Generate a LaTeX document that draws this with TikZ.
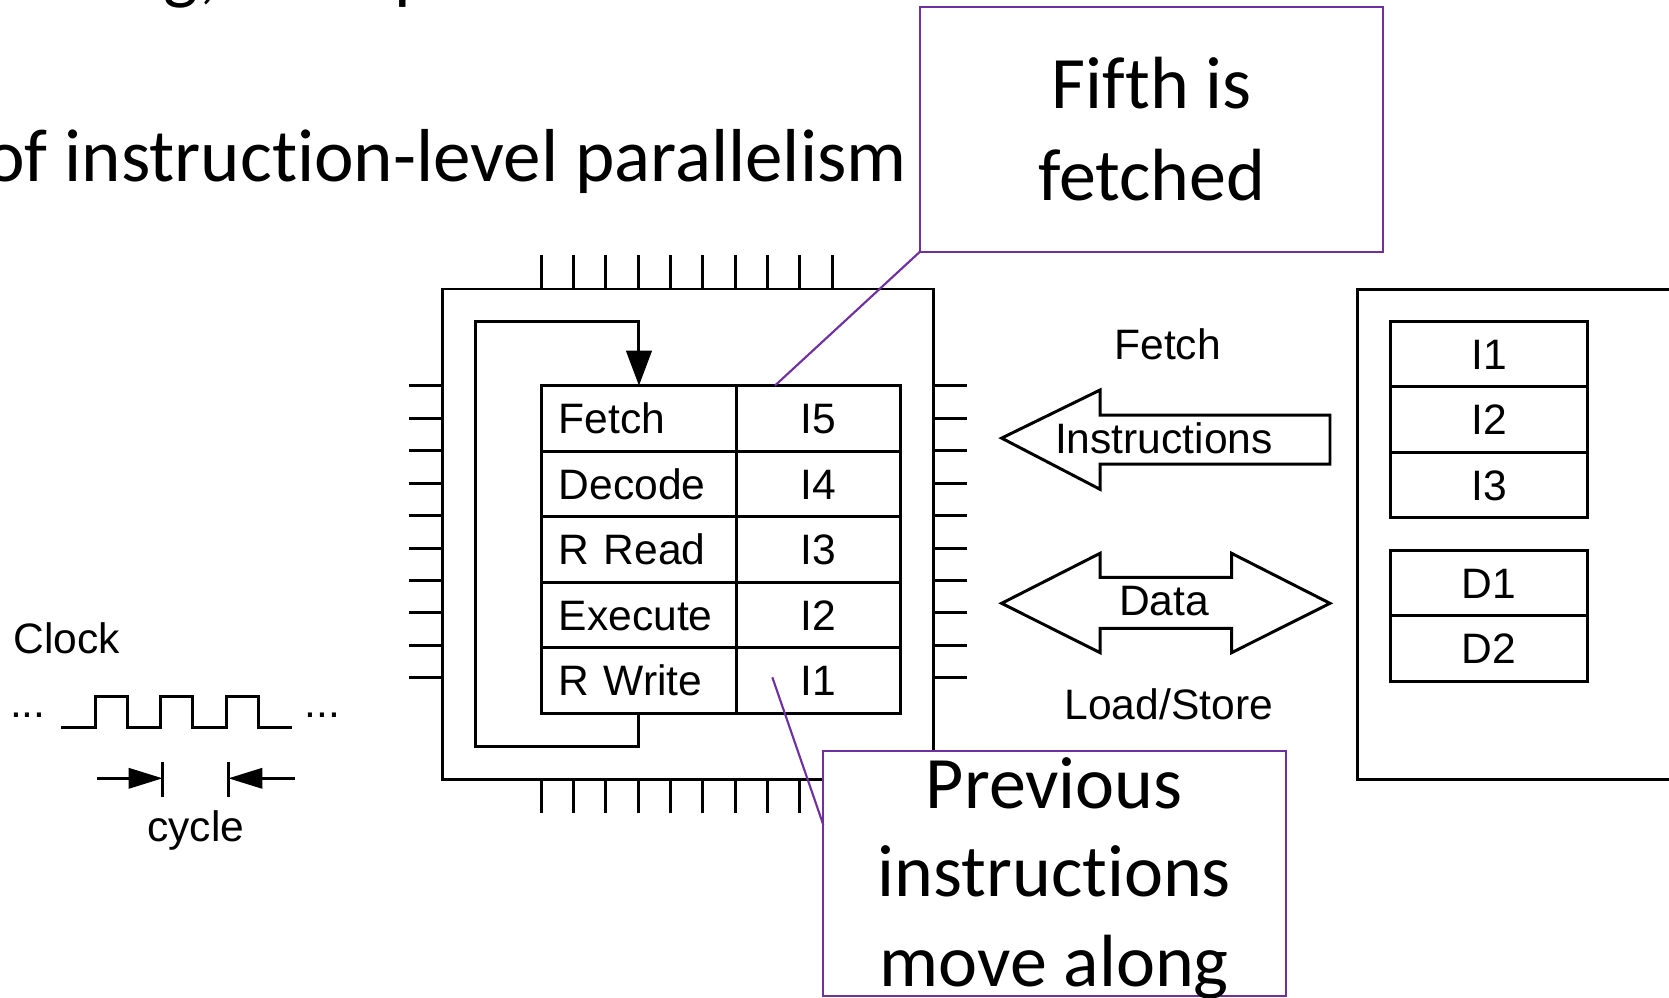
\documentclass[tikz,border=0pt]{standalone}
\usepackage{fontspec}
\setmainfont{Liberation Sans}
\newfontfamily\slidefont[Ligatures={NoCommon,NoRare,NoContextual}]{Carlito}
\usetikzlibrary{arrows.meta,calc}
\definecolor{calloutpurple}{HTML}{7030A0}

\begin{document}
\begin{tikzpicture}[x=1pt, y=-1pt,
  every node/.style={outer sep=0pt},
  wire/.style={line width=2.8pt},
  diag/.style={font=\fontsize{40}{48}\selectfont, inner sep=0pt},
  slide/.style={font=\slidefont\fontsize{69.5}{84}\selectfont, inner sep=0pt},
  stagecell/.style={draw, line width=2.8pt, minimum width=183.8pt, minimum height=61.58pt,
    text width=150.6pt, inner xsep=16.6pt, inner ysep=0pt, align=left,
    text height=28.6pt, text depth=0pt, font=\fontsize{40}{48}\selectfont},
  instrcell/.style={draw, line width=2.8pt, minimum width=153.4pt, minimum height=61.58pt,
    inner sep=0pt, text height=28.6pt, text depth=0pt, font=\fontsize{40}{48}\selectfont},
  memcell/.style={draw, line width=2.8pt, minimum width=185.1pt, minimum height=61.4pt,
    inner sep=0pt, text height=28.6pt, text depth=0pt, font=\fontsize{40}{48}\selectfont},
  callout/.style={draw=calloutpurple, line width=2pt, fill=white, inner sep=0pt},
  callline/.style={draw=calloutpurple, line width=2pt}
]
\useasboundingbox (0,0) rectangle (1568,937);
\clip (0,0) rectangle (1568,937);

% slide text
\node[slide, anchor=base west] (frag1) at (154,-4) {g,};
\node[slide, anchor=base west] (frag2) at (370.7,-4) {p};
\node[slide, font=\slidefont\fontsize{70.5}{84}\selectfont, anchor=base east] (subtitle) at (852,170.7) {of instruction-level parallelism};

% processor package with its pins
\node[draw, wire, minimum width=461pt, minimum height=460.5pt, anchor=north west] (chip) at (416,271.5) {};
\foreach \k in {0,...,9} {
  \draw[wire] (508.4+30.38*\k, 271.5) -- ++(0,-31.9);
  \draw[wire] (508.4+30.38*\k, 732) -- ++(0,31.5);
  \draw[wire] (416, 362.5+30.47*\k) -- ++(-32,0);
  \draw[wire] (877, 362.5+30.47*\k) -- ++(31,0);
}

% pipeline stages and the instruction in each
\foreach \nm/\stage/\ins [count=\k from 0] in {fe/Fetch/I5, de/Decode/I4, rr/R Read/I3, ex/Execute/I2, rw/R Write/I1} {
  \node[stagecell] (\nm) at (600.3, 393.09+61.58*\k) {\stage};
  \node[instrcell] (\nm-i) at (768.9, 393.09+61.58*\k) {\ins};
}

% feedback from the last stage to fetch
\draw[wire, -{Triangle[length=33pt, width=24pt]}] (rw.south) -- ++(0,30.7) -| (446.3,301.6) -| (fe.north);

% memory
\node[draw, wire, minimum width=400pt, minimum height=460.1pt, anchor=north west] (mem) at (1275,271.8) {};
\foreach \nm/\lab [count=\k from 0] in {m1/I1, m2/I2, m3/I3}
  \node[memcell] (\nm) at (1399, 332.85+61.37*\k) {\lab};
\foreach \nm/\lab [count=\k from 0] in {d1/D1, d2/D2}
  \node[memcell] (\nm) at (1399, 547.55+61.55*\k) {\lab};

% buses between processor and memory
\draw[wire] (941,411.6) -- (1033.5,366.4) -- (1033.5,390) -- (1249.5,390) -- (1249.5,436)
  -- (1033.5,436) -- (1033.5,459.7) -- cycle;
\draw[wire] (941,566.8) -- (1033.5,519.8) -- (1033.5,542.4) -- (1157,542.4) -- (1157,519.8)
  -- (1249.5,566.8) -- (1157,613.2) -- (1157,590.3) -- (1033.5,590.3) -- (1033.5,613.2) -- cycle;
\node[diag, anchor=base] (fetchlbl) at (1097,338) {Fetch};
\node[diag, anchor=base] (instr) at (1093.5,425.9) {Instructions};
\node[diag, anchor=base] (data) at (1093.7,577.8) {Data};
\node[diag, anchor=base] (ldst) at (1098,675.5) {Load/Store};

% clock
\node[diag, anchor=base west] (clock) at (12.5,614) {Clock};
\node[diag, anchor=base west] (dotsL) at (9.5,674) {...};
\node[diag, anchor=base west] (dotsR) at (286.5,674) {...};
\draw[wire] (57.3,683.6) -- (89.5,683.6) -- (89.5,653.9) -- (119.5,653.9) -- (119.5,683.6)
  -- (151,683.6) -- (151,653.9) -- (181,653.9) -- (181,683.6)
  -- (212.5,683.6) -- (212.5,653.9) -- (243,653.9) -- (243,683.6) -- (274,683.6);
\coordinate (tickL) at (152.8,731.2);
\coordinate (tickR) at (214.5,731.2);
\coordinate (tailL) at (90.8,731.2);
\coordinate (tailR) at (277,731.2);
\draw[wire] (152.8,715.6) -- (152.8,748.5);
\draw[wire] (214.5,715.6) -- (214.5,748.5);
\draw[wire, -{Triangle[length=32pt, width=19pt]}] (tailL) -- (tickL);
\draw[wire, -{Triangle[length=32pt, width=19pt]}] (tailR) -- (tickR);
\node[diag, anchor=base] (cycle) at (184,791) {cycle};

% callouts
\coordinate (c1end) at (728,362.3);
\coordinate (c2end) at (725.6,636.3);
\node[callout, minimum width=435.2pt, minimum height=230.1pt, anchor=north west] (c1) at (864.4,6.3) {};
\node[slide, anchor=base] (c1a) at (1082,101.8) {Fifth is};
\node[slide, anchor=base] (c1b) at (1082,188) {fetched};
\draw[callline] (c1.south west) -- (c1end);

\node[callout, minimum width=434.7pt, minimum height=230.2pt, anchor=north west] (c2) at (773.5,705.2) {};
\node[slide, anchor=base] (c2a) at (990.5,759.4) {Previous};
\node[slide, anchor=base] (c2b) at (990.5,842.4) {instructions};
\node[slide, anchor=base] (c2c) at (990.5,927) {move along};
\draw[callline] (c2end) -- ($(c2.north west)!0.303!(c2.south west)$);
\end{tikzpicture}
\end{document}
